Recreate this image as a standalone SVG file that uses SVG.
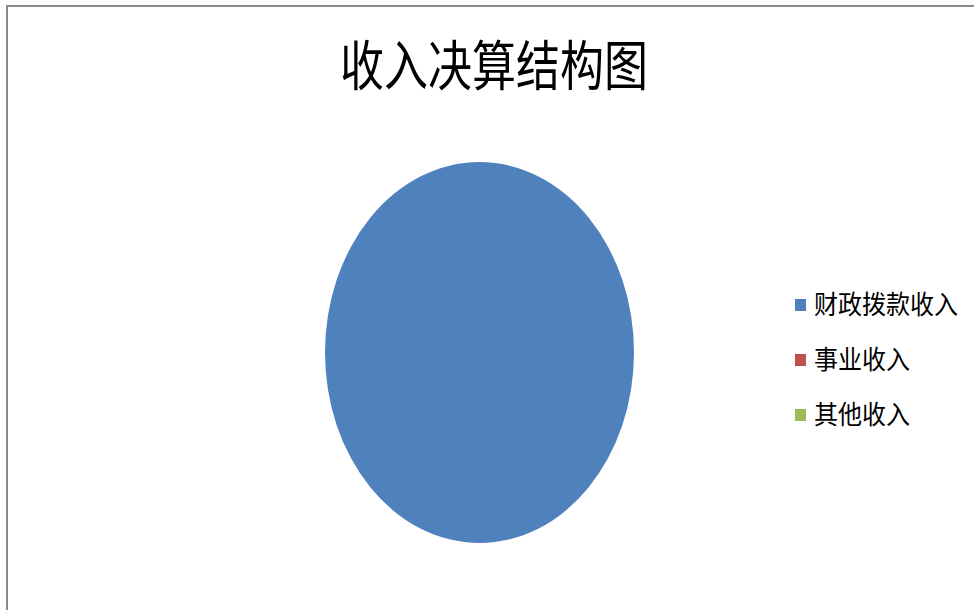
<svg xmlns="http://www.w3.org/2000/svg" width="974" height="610" viewBox="0 0 974 610">
<style>
.frame{fill:none;stroke:#8a8a8a;stroke-width:2}
.title{font-family:"Liberation Sans","Noto Sans CJK SC",sans-serif;font-size:54px;fill:#000}
.leg{font-family:"Liberation Sans","Noto Sans CJK SC",sans-serif;font-size:26px;fill:#000}
</style>
<rect width="974" height="610" fill="#fff"/>
<path class="frame" d="M7 611 V6 H974"/>
<g id="title"><text class="title" x="340" y="86" textLength="308" lengthAdjust="spacingAndGlyphs">收入决算结构图</text></g>
<g id="pie"><ellipse cx="479.5" cy="352.5" rx="154.5" ry="190.5" fill="#4F81BD"/></g>
<g id="legend">
<g id="legend-1"><rect x="795" y="299" width="11" height="12" fill="#4F81BD"/><text class="leg" x="814" y="314" textLength="144" lengthAdjust="spacingAndGlyphs">财政拨款收入</text></g>
<g id="legend-2"><rect x="795" y="354" width="11" height="12" fill="#C0504D"/><text class="leg" x="814" y="369" textLength="96" lengthAdjust="spacingAndGlyphs">事业收入</text></g>
<g id="legend-3"><rect x="795" y="409" width="11" height="12" fill="#9BBB59"/><text class="leg" x="814" y="424" textLength="96" lengthAdjust="spacingAndGlyphs">其他收入</text></g>
</g>
<g id="connectors"/>
</svg>
